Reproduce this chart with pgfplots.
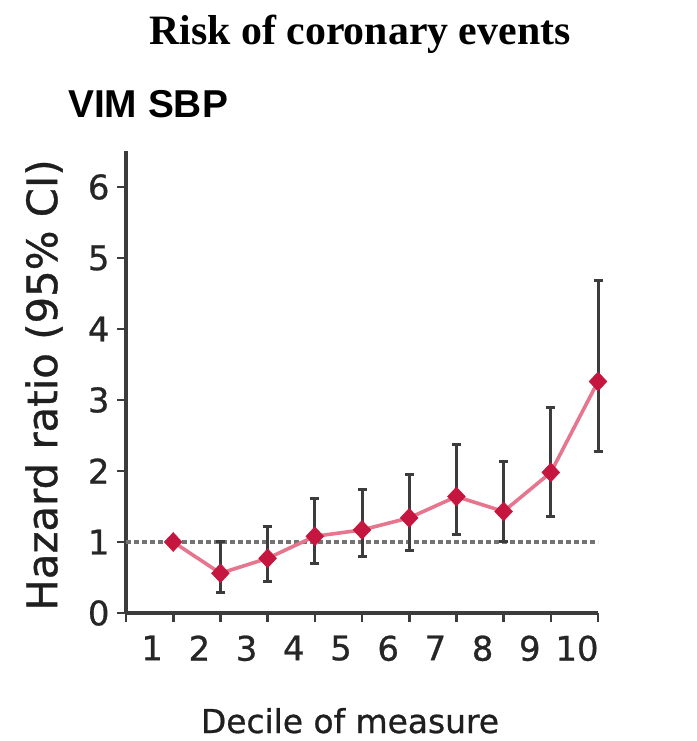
\documentclass[border=0pt]{standalone}
\usepackage{pgfplots}
\pgfplotsset{compat=1.18}
\usepackage{pgfplotstable}
\usepackage{fontspec}
\setmainfont{DejaVu Sans}
\newfontfamily\labelfont[FakeBold=0.8]{DejaVu Sans}
\newfontfamily\titlefont{Liberation Serif}
\newfontfamily\headfont{Liberation Sans}

\definecolor{axisgray}{RGB}{60,60,60}
\definecolor{barsgray}{RGB}{60,60,60}
\definecolor{refgray}{RGB}{115,115,115}
\definecolor{markred}{RGB}{196,22,62}
\definecolor{linepink}{RGB}{230,118,142}

% decile, hazard ratio, lower and upper 95% CI
\pgfplotstableread{
x   hr    lo    hi
2   0.56  0.29  1.00
3   0.77  0.44  1.22
4   1.08  0.70  1.61
5   1.17  0.79  1.74
6   1.34  0.88  1.95
7   1.64  1.11  2.38
8   1.43  1.00  2.13
9   1.98  1.36  2.89
10  3.26  2.27  4.68
}\cidata

\pgfplotstableread{
x   hr
1   1.00
2   0.56
3   0.77
4   1.08
5   1.17
6   1.34
7   1.64
8   1.43
9   1.98
10  3.26
}\hrdata

\begin{document}
\begin{tikzpicture}
\useasboundingbox (0,0) rectangle (697bp,741bp);

\begin{axis}[
  anchor=origin, at={(126bp,128bp)},
  scale only axis,
  x=47.2bp, y=71bp,
  xmin=0, xmax=10, ymin=0, ymax=6.5,
  axis x line=bottom, axis y line=left,
  axis line style={-, line width=3.6bp, axisgray},
  tick align=outside,
  major tick length=9bp,
  tick style={line width=2.6bp, axisgray},
  xtick={0,1,...,10},
  xticklabels={,1,2,3,4,5,6,7,8,9,10},
  ytick={0,1,...,6},
  /pgf/number format/assume math mode=true,
  tick label style={font=\labelfont\fontsize{34}{38}\selectfont, text=black!85},
  xticklabel style={xshift=-21bp, yshift=-10bp},
  yticklabel style={xshift=-4bp},
  clip=false,
]
  % reference line at a hazard ratio of 1
  \addplot [refgray, line width=3.4bp, dash pattern=on 5bp off 3bp]
    coordinates {(0,1) (10,1)};

  % 95% confidence intervals
  \addplot [draw=none, mark=none,
    error bars/.cd, y dir=both, y explicit,
    error bar style={line width=3bp, barsgray},
    error mark options={line width=3bp, barsgray, mark size=4.5bp, rotate=90}]
    table [x=x, y=hr,
      y error plus expr=\thisrow{hi}-\thisrow{hr},
      y error minus expr=\thisrow{hr}-\thisrow{lo}] {\cidata};

  % hazard ratios
  \addplot [linepink, line width=3.6bp,
    mark=diamond*, mark size=9.5bp,
    mark options={xscale=1.25, fill=markred, draw=markred, line width=0.5bp}]
    table [x=x, y=hr] {\hrdata};
\end{axis}

\node[anchor=base, font=\titlefont\bfseries\fontsize{42}{48}\selectfont]
  at (360bp,696bp) {Risk of coronary events};
\node[anchor=base west, inner sep=0pt, font=\headfont\bfseries\fontsize{39}{44}\selectfont]
  at (68bp,623bp) {VIM SBP};
\node[rotate=90, anchor=center, font=\labelfont\fontsize{42}{48}\selectfont, text=black!88]
  at (44bp,356bp) {Hazard ratio (95\% CI)};
\node[anchor=base, font=\labelfont\fontsize{33}{38}\selectfont, text=black!88]
  at (350bp,8bp) {Decile of measure};
\end{tikzpicture}
\end{document}
